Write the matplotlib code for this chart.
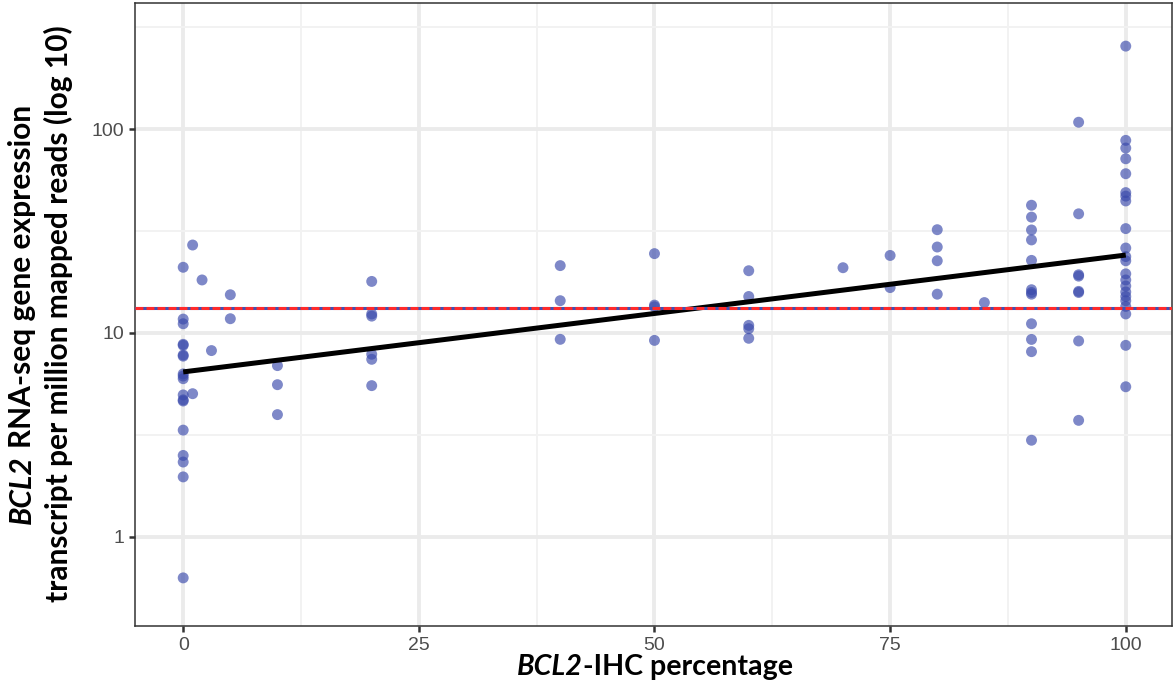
import numpy as np
import matplotlib
matplotlib.use("Agg")
import matplotlib.pyplot as plt
from matplotlib.ticker import FixedLocator, NullFormatter
from matplotlib.transforms import IdentityTransform

# BCL2-IHC percentage and RNA-seq expression (TPM)
ihc = [0] * 18 + [1, 1, 2, 3, 5, 5] + [10] * 3 + [20] * 6 + [40] * 3 + [50] * 4 \
    + [60] * 5 + [70] + [75] * 2 + [80] * 4 + [85] + [90] * 12 + [95] * 8 + [100] * 22
tpm = [21.0, 11.7, 11.1, 8.8, 8.7, 7.8, 7.7, 6.3, 6.15, 5.97, 4.97, 4.7, 4.64,
       3.34, 2.51, 2.33, 1.97, 0.63,
       27.0, 5.04, 18.2, 8.2, 15.4, 11.75,
       6.92, 5.58, 3.98,
       17.9, 12.4, 12.1, 7.87, 7.43, 5.52,
       21.4, 14.4, 9.31,
       24.5, 13.7, 13.45, 9.2,
       20.2, 15.1, 10.9, 10.5, 9.42,
       20.9,
       24.0, 16.7,
       32.1, 26.4, 22.6, 15.5,
       14.1,
       42.3, 37.0, 32.0, 28.6, 22.7, 16.3, 15.8, 15.5, 11.1, 9.3, 8.1, 2.98,
       108, 38.4, 19.3, 19.0, 16.0, 15.8, 9.14, 3.73,
       255, 88, 80.7, 71.5, 60.4, 48.8, 46.9, 44.4, 32.5, 26.1, 23.7, 22.6,
       19.5, 18.2, 17.0, 15.9, 15.1, 14.4, 13.5, 12.4, 8.7, 5.45]
threshold = 13.3

x_ticks = [0, 25, 50, 75, 100]
y_ticks = [1, 10, 100]

W, H = 1175, 696
fig = plt.figure(figsize=(W / 100, H / 100), dpi=100)
ax = fig.add_axes([0.115, 0.1006, 0.8824, 0.8951])

x = np.array(ihc, dtype=float)
y = np.array(tpm, dtype=float)

ax.scatter(x, y, s=62, color='#3949AB', alpha=0.65, edgecolors='none', zorder=3)

# linear fit on log scale
slope, inter = np.polyfit(x, np.log10(y), 1)
xf = np.array([x.min(), x.max()])
ax.plot(xf, 10 ** (inter + slope * xf), color='black', lw=3.6, zorder=4,
        solid_capstyle='butt')

ax.axhline(threshold, color='#3F51B5', lw=2.2, zorder=5)
ax.axhline(threshold, color='#FF2A2A', lw=2.2, ls=(0, (2.6, 1)), zorder=6)

ax.set_yscale('log')
ax.set_xlim(-5.1, 104.9)
ax.set_ylim(0.366, 415)

ax.xaxis.set_major_locator(FixedLocator(x_ticks))
ax.xaxis.set_minor_locator(FixedLocator([12.5, 37.5, 62.5, 87.5]))
ax.yaxis.set_major_locator(FixedLocator(y_ticks))
ax.yaxis.set_minor_locator(FixedLocator([10 ** 0.5, 10 ** 1.5, 10 ** 2.5]))
ax.yaxis.set_minor_formatter(NullFormatter())
ax.set_xticklabels([str(t) for t in x_ticks])
ax.set_yticklabels([str(t) for t in y_ticks])

ax.grid(True, which='major', color='#EBEBEB', lw=2.8, zorder=0)
ax.grid(True, which='minor', color='#F2F2F2', lw=1.4, zorder=0)
ax.set_axisbelow(True)

for sp in ax.spines.values():
    sp.set_color('#333333')
    sp.set_linewidth(1.1)

ax.tick_params(which='major', length=4, width=1.8, color='#333333',
               labelcolor='#4D4D4D', labelsize=14, pad=4)
ax.tick_params(which='minor', length=0)
for lab in ax.get_xticklabels() + ax.get_yticklabels():
    lab.set_family('Liberation Sans')

# axis titles: italic gene name followed by bold text, placed in pixels
ytitle_kw = dict(family='Lato', fontweight='bold', fontsize=21.5, color='black')
xtitle_kw = dict(ytitle_kw, fontsize=20.6)
r = fig.canvas.get_renderer()


def text_w(s, **kw):
    t = fig.text(0, 0, s, **kw)
    w = t.get_window_extent(r).width
    t.remove()
    return w


gene = 'BCL2'

# x-axis title
xrest = '-IHC percentage'
wg = text_w(gene, style='italic', **xtitle_kw)
w_xrest = text_w(xrest, **xtitle_kw)
x0 = 655 - (wg + w_xrest) / 2
xb = H - 675
fig.text(x0, xb, gene, style='italic', ha='left', va='baseline',
         transform=IdentityTransform(), **xtitle_kw)
fig.text(x0 + wg, xb, xrest, ha='left', va='baseline',
         transform=IdentityTransform(), **xtitle_kw)

# y-axis title, two lines
yc = H - 314
line1 = 'RNA-seq gene expression'
line2 = 'transcript per million mapped reads (log 10)'
wg = text_w(gene, style='italic', **ytitle_kw)
w_space = text_w('x x', **ytitle_kw) - text_w('xx', **ytitle_kw)
w_l1 = text_w(line1, **ytitle_kw)
y0 = yc - (wg + w_space + w_l1) / 2
fig.text(31, y0, gene, style='italic', rotation=90, rotation_mode='anchor',
         ha='left', va='baseline', transform=IdentityTransform(), **ytitle_kw)
fig.text(31, y0 + wg + w_space, line1, rotation=90, rotation_mode='anchor',
         ha='left', va='baseline', transform=IdentityTransform(), **ytitle_kw)
fig.text(68, yc, line2, rotation=90, rotation_mode='anchor',
         ha='center', va='baseline', transform=IdentityTransform(), **ytitle_kw)

fig.savefig('out.png', dpi=100)
